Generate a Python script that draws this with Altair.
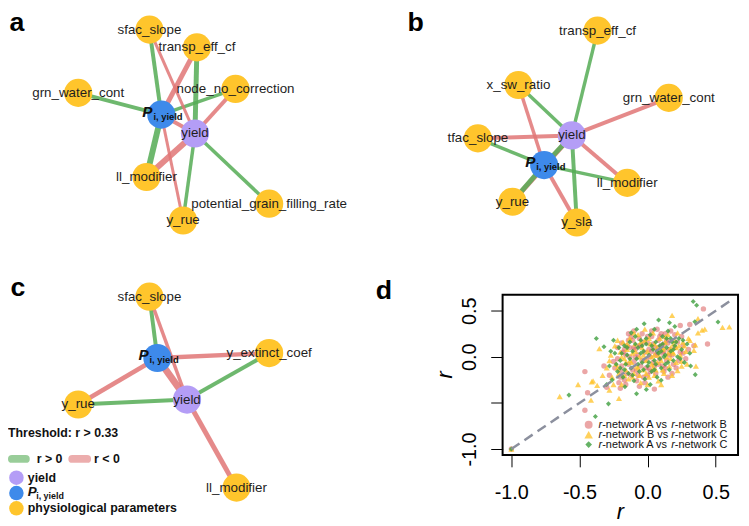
import altair as alt
import pandas as pd

FONT = "Liberation Sans"
W, H = 741, 518

C_YELLOW = "#FFC52C"
C_BLUE = "#3E8AEA"
C_PURPLE = "#B49DF6"
C_POS = "#55AC55"
C_NEG = "#E07676"

# ---------------- network a ----------------
A_NODES = ["sfac_slope", "transp_eff_cf", "node_no_correction", "grn_water_cont", "P",
           "yield", "ll_modifier", "y_rue", "potential_grain_filling_rate"]
A_X = [151, 199, 238, 79, 163, 197, 148, 185, 272]
A_Y = [27, 45, 87, 91, 113, 132, 176, 220, 203]
A_FROM = ["P", "P", "P", "P", "P", "P", "P", "yield", "yield", "yield", "yield", "yield", "yield"]
A_TO = ["sfac_slope", "grn_water_cont", "node_no_correction", "transp_eff_cf", "ll_modifier", "y_rue",
        "yield", "sfac_slope", "transp_eff_cf", "node_no_correction", "ll_modifier", "y_rue",
        "potential_grain_filling_rate"]
A_SIGN = [1, 1, 1, -1, 1, -1, -1, -1, 1, -1, -1, 1, 1]
A_W = [4, 4, 3.5, 5, 6, 3, 4, 3, 5, 4, 6, 3.5, 3.5]

# ---------------- network b ----------------
B_NODES = ["transp_eff_cf", "x_sw_ratio", "grn_water_cont", "tfac_slope", "yield", "P",
           "ll_modifier", "y_rue", "y_sla"]
B_X = [604, 524, 676, 483, 578, 550, 634, 518, 583]
B_Y = [28, 83, 96, 137, 134, 164, 182, 201, 222]
B_FROM = ["yield"] * 7 + ["P"] * 6
B_TO = ["transp_eff_cf", "x_sw_ratio", "grn_water_cont", "tfac_slope", "ll_modifier", "y_sla", "y_rue",
        "x_sw_ratio", "tfac_slope", "ll_modifier", "y_sla", "y_rue", "yield"]
B_SIGN = [1, 1, -1, -1, -1, 1, -1, -1, 1, 1, -1, 1, 1]
B_W = [3.5, 3.5, 4, 4, 4, 4, 5, 3.5, 3.5, 3.5, 4, 5, 5]

# ---------------- network c ----------------
C_NODES = ["sfac_slope", "P", "y_extinct_coef", "y_rue", "yield", "ll_modifier"]
C_X = [151, 159, 272, 79, 189, 239]
C_Y = [297, 359, 354, 406, 401, 490]
C_FROM = ["P", "yield", "P", "yield", "P", "yield", "P", "yield"]
C_TO = ["sfac_slope", "sfac_slope", "y_extinct_coef", "y_extinct_coef", "y_rue", "y_rue", "yield", "ll_modifier"]
C_SIGN = [1, -1, -1, 1, -1, 1, -1, -1]
C_W = [4, 3.5, 4.5, 4, 4.5, 4, 7, 5]

# ---------------- panel d scatter (r values) ----------------
AB_PTS = [(-1.0, -1.0), (0.41, 0.52), (0.24, 0.34), (0.31, 0.35), (0.44, 0.14), (-0.14, 0.25),
          (-0.46, -0.16), (-0.46, -0.58), (-0.44, -0.39), (-0.30, -0.33), (-0.20, -0.34), (0.34, 0.12),
          (0.15, -0.22), (-0.28, -0.20), (-0.25, -0.05), (-0.24, -0.12), (-0.22, 0.10), (-0.21, -0.28),
          (-0.20, -0.15), (-0.19, 0.15), (-0.18, 0.05), (-0.17, -0.25), (-0.16, -0.30), (-0.15, 0.12),
          (-0.14, -0.08), (-0.13, 0.00), (-0.12, -0.20), (-0.12, 0.22), (-0.11, 0.18), (-0.10, -0.05),
          (-0.10, 0.28), (-0.09, 0.08), (-0.08, -0.15), (-0.08, -0.26), (-0.07, 0.02), (-0.06, 0.20),
          (-0.05, -0.10), (-0.05, 0.12), (-0.04, 0.25), (-0.03, -0.22), (-0.02, 0.05), (-0.01, -0.03),
          (0.00, 0.15), (0.00, -0.20), (0.01, -0.12), (0.02, 0.00), (0.03, 0.22), (0.03, 0.28),
          (0.04, -0.06), (0.05, 0.10), (0.05, -0.35), (0.06, -0.18), (0.07, 0.04), (0.08, 0.18),
          (0.09, -0.02), (0.10, 0.12), (0.10, 0.25), (0.11, -0.10), (0.12, 0.06), (0.13, 0.25),
          (0.14, -0.04), (0.15, 0.15), (0.16, 0.02), (0.17, 0.28), (0.18, -0.18), (0.19, -0.08),
          (0.20, 0.10), (0.21, -0.12), (0.22, 0.16), (0.24, 0.05), (0.25, 0.22), (0.26, 0.12),
          (0.28, -0.02), (0.30, 0.08), (-0.32, -0.10), (0.12, -0.16), (-0.06, -0.32), (0.07, 0.30),
          (-0.22, -0.02), (-0.19, -0.10), (-0.17, 0.08), (-0.15, -0.18), (-0.13, 0.10), (-0.11, -0.14),
          (-0.09, 0.00), (-0.07, -0.20), (-0.06, 0.12), (-0.04, -0.04), (-0.03, 0.16), (-0.01, -0.12),
          (0.01, 0.08), (0.02, -0.16), (0.04, 0.14), (0.06, 0.02), (0.08, -0.08), (0.09, 0.22),
          (0.11, 0.04), (0.13, -0.12), (0.14, 0.18), (0.16, 0.08), (0.18, 0.02), (0.20, 0.24),
          (0.23, -0.04), (-0.16, 0.02), (-0.02, -0.28), (0.00, 0.22), (0.05, -0.10), (0.12, 0.14),
          (-0.10, 0.10), (0.08, 0.10), (-0.20, -0.22), (0.26, 0.04), (-0.14, 0.18), (0.03, 0.06)]

BC_PTS = [(-1.0, -1.0), (-0.645, -0.43), (-0.51, -0.30), (-0.41, -0.27), (-0.37, -0.31), (-0.40, -0.26),
          (-0.415, -0.47), (-0.21, -0.45), (-0.354, 0.09), (-0.22, 0.18), (0.18, 0.45), (0.42, 0.30),
          (0.55, 0.32), (0.60, 0.325), (0.37, 0.26), (0.355, -0.10), (0.37, 0.415), (0.40, 0.29),
          (0.31, 0.18), (0.34, 0.07), (0.35, 0.13), (-0.28, -0.36), (-0.33, -0.20), (0.25, -0.05),
          (0.22, -0.15), (-0.30, -0.12), (-0.27, 0.02), (-0.26, -0.22), (-0.24, 0.12), (-0.23, -0.08),
          (-0.21, -0.18), (-0.20, 0.05), (-0.19, -0.30), (-0.18, 0.16), (-0.17, -0.02), (-0.16, -0.14),
          (-0.15, 0.08), (-0.14, -0.24), (-0.13, 0.20), (-0.12, -0.06), (-0.11, 0.04), (-0.10, -0.18),
          (-0.09, 0.14), (-0.08, -0.10), (-0.07, 0.24), (-0.06, 0.00), (-0.05, -0.28), (-0.04, 0.10),
          (-0.03, -0.14), (-0.02, 0.18), (-0.01, -0.04), (0.00, 0.06), (0.01, -0.22), (0.02, 0.14),
          (0.03, -0.08), (0.04, 0.26), (0.05, 0.02), (0.06, -0.14), (0.07, 0.10), (0.08, -0.26),
          (0.09, 0.20), (0.10, -0.04), (0.11, 0.08), (0.12, -0.18), (0.13, 0.16), (0.14, 0.00),
          (0.15, 0.24), (0.16, -0.10), (0.17, 0.10), (0.18, -0.20), (0.19, 0.04), (0.20, 0.18),
          (0.21, -0.06), (0.23, 0.12), (0.24, 0.02), (0.26, 0.16), (0.28, 0.06), (0.29, -0.08),
          (0.30, 0.20), (0.05, -0.20), (-0.02, 0.30), (0.10, -0.30), (-0.25, -0.30),
          (-0.22, -0.12), (-0.19, 0.00), (-0.17, -0.20), (-0.15, 0.14), (-0.13, -0.04), (-0.11, -0.22),
          (-0.09, 0.06), (-0.07, -0.12), (-0.05, 0.16), (-0.03, 0.02), (-0.01, -0.18), (0.01, 0.20),
          (0.03, 0.00), (0.05, 0.14), (0.07, -0.06), (0.09, 0.08), (0.11, -0.14), (0.13, 0.22),
          (0.15, 0.04), (0.17, -0.02), (0.19, 0.14), (0.21, 0.10), (0.22, 0.26), (0.25, -0.10),
          (0.27, 0.12), (-0.28, -0.04), (-0.10, 0.26), (0.00, -0.30), (0.08, 0.02), (-0.06, -0.20),
          (0.12, 0.10), (-0.16, -0.06), (0.04, -0.12), (0.18, 0.06)]

AC_PTS = [(-1.0, -1.0), (0.335, 0.60), (0.36, 0.56), (-0.376, 0.20), (-0.32, 0.11), (-0.577, -0.415),
          (-0.287, -0.51), (-0.383, -0.647), (-0.009, -0.354), (0.10, -0.254), (0.35, -0.193),
          (0.517, 0.379), (0.081, 0.40), (-0.025, 0.36), (0.161, 0.37), (0.347, 0.38), (0.316, -0.10),
          (-0.081, -0.40), (-0.166, -0.325), (0.20, 0.33), (-0.25, 0.18), (-0.28, -0.10), (-0.26, -0.25),
          (-0.24, 0.04), (-0.22, -0.16), (-0.21, 0.10), (-0.20, -0.04), (-0.18, -0.22), (-0.17, 0.12),
          (-0.16, -0.08), (-0.15, 0.02), (-0.14, -0.18), (-0.13, 0.16), (-0.12, -0.12), (-0.11, 0.06),
          (-0.10, -0.26), (-0.09, 0.22), (-0.08, -0.02), (-0.07, 0.10), (-0.06, -0.16), (-0.05, 0.18),
          (-0.04, -0.06), (-0.03, 0.06), (-0.02, -0.24), (-0.01, 0.14), (0.00, -0.10), (0.01, 0.02),
          (0.02, 0.24), (0.03, -0.16), (0.04, 0.08), (0.05, -0.04), (0.06, 0.16), (0.07, -0.22),
          (0.08, 0.04), (0.09, 0.12), (0.10, -0.12), (0.11, 0.22), (0.12, 0.00), (0.13, -0.08),
          (0.14, 0.10), (0.15, 0.28), (0.16, -0.14), (0.17, 0.06), (0.18, 0.16), (0.19, -0.04),
          (0.20, 0.12), (0.22, 0.00), (0.23, 0.20), (0.25, 0.08), (0.27, -0.06), (0.29, 0.14),
          (0.31, 0.04), (-0.30, -0.30), (0.05, 0.30), (-0.12, 0.26),
          (-0.23, -0.08), (-0.19, 0.04), (-0.17, -0.14), (-0.15, 0.10), (-0.13, -0.02), (-0.11, -0.20),
          (-0.09, 0.14), (-0.07, -0.08), (-0.05, 0.04), (-0.03, -0.14), (-0.01, 0.20), (0.01, -0.06),
          (0.03, 0.12), (0.05, -0.14), (0.07, 0.06), (0.09, -0.02), (0.11, 0.14), (0.13, 0.02),
          (0.15, -0.06), (0.17, 0.20), (0.19, 0.08), (0.21, 0.16), (0.24, -0.02), (0.26, 0.18),
          (-0.27, 0.06), (-0.08, 0.30), (0.02, -0.30), (0.10, 0.06), (-0.04, 0.12), (0.06, -0.08),
          (-0.20, -0.12), (0.14, 0.20)]

D_TICKS = [-1.0, -0.5, 0.0, 0.5]
D_LEGEND = ["A", "B", "A"]
D_LEGEND_END = ["-network B", "-network C", "-network C"]

# ---------------- build tables ----------------
def network(panel, names, xs, ys, frm, to, sign, width):
    pos = {n: (x, y) for n, x, y in zip(names, xs, ys)}
    nodes = pd.DataFrame({"panel": panel, "name": names, "x": xs, "y": ys})
    nodes["fill"] = [C_PURPLE if n == "yield" else C_BLUE if n == "P" else C_YELLOW for n in names]
    edges = pd.DataFrame({
        "x": [pos[f][0] for f in frm], "y": [pos[f][1] for f in frm],
        "x2": [pos[t][0] for t in to], "y2": [pos[t][1] for t in to],
        "col": [C_POS if s > 0 else C_NEG for s in sign], "w": width})
    return nodes, edges

na, ea = network("a", A_NODES, A_X, A_Y, A_FROM, A_TO, A_SIGN, A_W)
nb, eb = network("b", B_NODES, B_X, B_Y, B_FROM, B_TO, B_SIGN, B_W)
nc, ec = network("c", C_NODES, C_X, C_Y, C_FROM, C_TO, C_SIGN, C_W)
nodes_df = pd.concat([na, nb, nc], ignore_index=True)
edges_df = pd.concat([ea, eb, ec], ignore_index=True)

SX = alt.Scale(domain=[8, 8 + W], range=[0, W], nice=False, zero=False)
SY = alt.Scale(domain=[8, 8 + H], range=[0, H], nice=False, zero=False)
SXD = alt.Scale(domain=[-1.064, 0.664], range=[500, 738], nice=False, zero=False)
SYD = alt.Scale(domain=[-1.064, 0.674], range=[449, 287], nice=False, zero=False)


def X(f, s=SX):
    return alt.X(f"{f}:Q", scale=s, axis=None)


def Y(f, s=SY):
    return alt.Y(f"{f}:Q", scale=s, axis=None)


layers = []

# edges, nodes, labels
layers.append(alt.Chart(edges_df).mark_rule(strokeCap="butt", opacity=0.85).encode(
    x=X("x"), y=Y("y"), x2="x2:Q", y2="y2:Q",
    color=alt.Color("col:N", scale=None), strokeWidth=alt.StrokeWidth("w:Q", scale=None)))
layers.append(alt.Chart(nodes_df).mark_circle(size=810, opacity=1).encode(
    x=X("x"), y=Y("y"), color=alt.Color("fill:N", scale=None)))
layers.append(alt.Chart(nodes_df).transform_filter(alt.datum.name != "P").mark_text(
    font=FONT, fontSize=13.5, color="#1e1e1e").encode(x=X("x"), y=Y("y"), text="name:N"))
pn = alt.Chart(nodes_df).transform_filter(alt.datum.name == "P")
layers.append(pn.mark_text(text="P", font=FONT, fontStyle="italic", fontWeight="bold", fontSize=15.5,
                           dx=-14, dy=-3, color="#111111").encode(x=X("x"), y=Y("y")))
layers.append(pn.mark_text(text="i, yield", font=FONT, fontWeight="bold", fontSize=9.5, align="left",
                           dx=-8, dy=2, color="#111111").encode(x=X("x"), y=Y("y")))

# panel letters
letters = pd.DataFrame({"t": ["a", "b", "c", "d"], "x": [17, 420, 18, 388], "y": [28, 28, 296, 299]})
layers.append(alt.Chart(letters).mark_text(font=FONT, fontWeight="bold", fontSize=27,
                                           baseline="alphabetic", color="black").encode(
    x=X("x"), y=Y("y"), text="t:N"))

# network legend (panel c)
thr = pd.DataFrame({"t": ["Threshold: r > 0.33", "r > 0", "r < 0", "yield", "physiological parameters"],
                    "x": [8, 37, 95, 28, 28], "y": [435, 461, 461, 480, 511]})
layers.append(alt.Chart(thr).mark_text(font=FONT, fontWeight="bold", fontSize=12.5, align="left",
                                       color="#111111").encode(x=X("x"), y=Y("y"), text="t:N"))
sw = pd.DataFrame({"x": [12, 73], "x2": [26, 88], "y": [461, 461], "col": [C_POS, C_NEG]})
layers.append(alt.Chart(sw).mark_rule(strokeWidth=8, strokeCap="round", opacity=0.6).encode(
    x=X("x"), x2="x2:Q", y=Y("y"), color=alt.Color("col:N", scale=None)))
lc = pd.DataFrame({"x": [16.5, 16.5, 16.5], "y": [480, 495.5, 511], "fill": [C_PURPLE, C_BLUE, C_YELLOW]})
layers.append(alt.Chart(lc).mark_circle(size=215, opacity=1).encode(
    x=X("x"), y=Y("y"), color=alt.Color("fill:N", scale=None)))
lp = pd.DataFrame({"x": [28], "y": [495]})
layers.append(alt.Chart(lp).mark_text(text="P", font=FONT, fontStyle="italic", fontWeight="bold",
                                      fontSize=13.5, align="left", color="#111111").encode(x=X("x"), y=Y("y")))
layers.append(alt.Chart(lp).mark_text(text="i, yield", font=FONT, fontWeight="bold", fontSize=9,
                                      align="left", dx=8.5, dy=3.5, color="#111111").encode(x=X("x"), y=Y("y")))

# ---------------- panel d ----------------
ab = pd.DataFrame(AB_PTS, columns=["rx", "ry"])
bc = pd.DataFrame(BC_PTS, columns=["rx", "ry"])
ac = pd.DataFrame(AC_PTS, columns=["rx", "ry"])

lab = "datum.value < 0 ? '-' + format(-datum.value, '.1f') : format(datum.value, '.1f')"
xaxis = alt.Axis(values=D_TICKS, labelExpr=lab, title=None, domain=False, grid=False, tickSize=12,
                 tickColor="black", tickWidth=1, labelFont=FONT, labelFontSize=20, labelColor="black",
                 labelPadding=16, labelFlush=False, labelOverlap=False, offset=-69, orient="bottom")
yaxis = alt.Axis(values=D_TICKS, labelExpr="datum.value == -0.5 ? '' : (" + lab + ")", title=None,
                 domain=False, grid=False, tickSize=12, tickColor="black", tickWidth=1, labelFont=FONT,
                 labelFontSize=20, labelColor="black", labelPadding=11, labelAngle=270, labelAlign="center",
                 labelBaseline="bottom", labelFlush=False, labelOverlap=False, offset=-500, orient="left")

layers.append(alt.Chart(ab).mark_point(shape="circle", filled=True, size=30, opacity=0.6,
                                       color="#DE6B6B").encode(
    x=alt.X("rx:Q", scale=SXD, axis=xaxis), y=alt.Y("ry:Q", scale=SYD, axis=yaxis)))
layers.append(alt.Chart(bc).mark_point(shape="triangle-up", filled=True, size=38, opacity=0.75,
                                       color="#FFC125").encode(x=X("rx", SXD), y=Y("ry", SYD)))
layers.append(alt.Chart(ac).mark_point(shape="diamond", filled=True, size=26, opacity=0.8,
                                       color="#3E9F3E").encode(x=X("rx", SXD), y=Y("ry", SYD)))

diag = pd.DataFrame({"rx": [-1.0, 0.62], "ry": [-1.0, 0.62]})
layers.append(alt.Chart(diag).mark_line(strokeDash=[10, 6], color="#8C909E", strokeWidth=2.5).encode(
    x=X("rx", SXD), y=Y("ry", SYD)))

frame = pd.DataFrame({"x0": [-1.064], "x1": [0.664], "y0": [-1.064], "y1": [0.674]})
layers.append(alt.Chart(frame).mark_rect(fillOpacity=0, stroke="black", strokeWidth=2).encode(
    x=X("x0", SXD), x2="x1:Q", y=Y("y0", SYD), y2="y1:Q"))

# axis titles
tt = pd.DataFrame({"x": [627], "y": [515]})
layers.append(alt.Chart(tt).mark_text(text="r", font=FONT, fontStyle="italic", fontSize=22,
                                      color="black").encode(x=X("x"), y=Y("y")))
ty = pd.DataFrame({"x": [450], "y": [376]})
layers.append(alt.Chart(ty).mark_text(text="r", font=FONT, fontStyle="italic", fontSize=22, angle=270,
                                      color="black").encode(x=X("x"), y=Y("y")))

# scatter legend
leg = pd.DataFrame({"x": [595, 595, 595], "tx": [605, 605, 605], "y": [426.5, 436.5, 446.5],
                    "shape": ["circle", "triangle-up", "diamond"],
                    "col": ["#DE6B6B", "#FFC125", "#3E9F3E"], "sz": [64, 75, 45], "op": [0.6, 0.75, 0.8],
                    "mid": ["-network " + s + " vs " for s in D_LEGEND], "end": D_LEGEND_END})
layers.append(alt.Chart(leg).mark_point(filled=True).encode(
    x=X("x"), y=Y("y"), shape=alt.Shape("shape:N", scale=None), color=alt.Color("col:N", scale=None),
    size=alt.Size("sz:Q", scale=None), opacity=alt.Opacity("op:Q", scale=None)))
for dx, fld, ital in [(0, None, True), (3.7, "mid", False), (73.4, None, True), (77.1, "end", False)]:
    kw = dict(font=FONT, fontSize=11, align="left", dx=dx, color="#111111")
    if ital:
        kw["fontStyle"] = "italic"
        kw["text"] = "r"
        layers.append(alt.Chart(leg).mark_text(**kw).encode(x=X("tx"), y=Y("y")))
    else:
        layers.append(alt.Chart(leg).mark_text(**kw).encode(x=X("tx"), y=Y("y"), text=f"{fld}:N"))

chart = alt.layer(*layers).resolve_scale(x="independent", y="independent").properties(
    width=W, height=H, padding=0, autosize=alt.AutoSizeParams(type="none")
).configure_view(strokeWidth=0)

chart.save("out.html", embed_options={"renderer": "svg", "actions": False})
